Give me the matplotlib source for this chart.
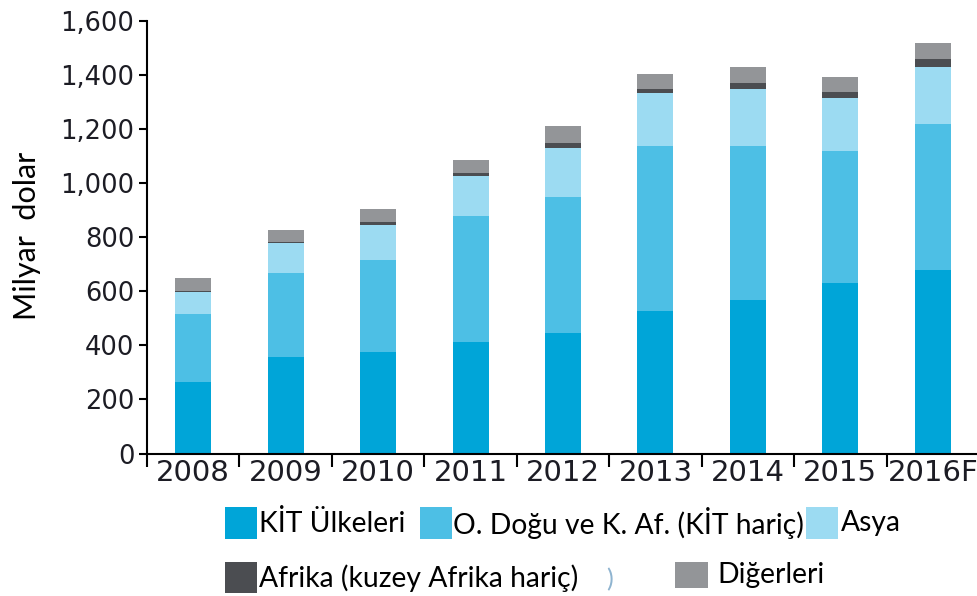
import matplotlib
matplotlib.use("Agg")
import matplotlib.pyplot as plt
from matplotlib.patches import Rectangle
import numpy as np

years = ["2008", "2009", "2010", "2011", "2012", "2013", "2014", "2015", "2016F"]
kit = [265, 356, 375, 412, 446, 527, 567, 629, 678]
odogu = [249, 310, 340, 466, 500, 610, 570, 489, 539]
asya = [84, 111, 129, 147, 182, 194, 209, 195, 212]
afrika = [2, 3, 12, 11, 18, 15, 22, 24, 28]
digerleri = [47, 46, 46, 49, 65, 55, 61, 55, 61]

series_names = ["KİT Ülkeleri", "O. Doğu ve K. Af. (KİT hariç)", "Asya",
                "Afrika (kuzey Afrika hariç)", "Diğerleri"]
colors = ["#00A5D8", "#4DBFE5", "#9CDBF2", "#4B4D51", "#939598"]
yticks = [0, 200, 400, 600, 800, 1000, 1200, 1400, 1600]

W, H = 978, 596
fig = plt.figure(figsize=(W / 100, H / 100), dpi=100)

def fx(px):
    return px / W

def fy(py):
    return 1 - py / H

ax = fig.add_axes([fx(147), fy(453.5), fx(979) - fx(147), fy(20.5) - fy(453.5)])

x = np.arange(len(years))
bottom = np.zeros(len(years))
for vals, c, name in zip([kit, odogu, asya, afrika, digerleri], colors, series_names):
    ax.bar(x, vals, bottom=bottom, width=0.39, color=c, label=name, linewidth=0)
    bottom += np.array(vals)

ax.set_xlim(-0.5, 8.5)
ax.set_ylim(0, 1600)
ax.set_yticks(yticks)
ax.set_yticklabels([f"{v:,}" for v in yticks])
ax.set_xticks(np.arange(-0.5, 9.0, 1.0))
ax.set_xticklabels([])
ax.set_xticks(x, minor=True)
ax.set_xticklabels(years, minor=True)

ax.tick_params(axis="x", which="major", direction="out", length=9, width=1.5, color="black")
ax.tick_params(axis="x", which="minor", length=0, pad=4, labelsize=21, labelcolor="#1c1c24")
ax.tick_params(axis="y", direction="out", length=6, width=1.5, labelsize=18.5,
               labelcolor="#1c1c24", pad=3)
for lab in ax.get_xticklabels(minor=True) + ax.get_yticklabels():
    lab.set_family("DejaVu Sans")

for s in ["top", "right"]:
    ax.spines[s].set_visible(False)
for s in ["left", "bottom"]:
    ax.spines[s].set_linewidth(1.5)
    ax.spines[s].set_color("black")

fig.text(fx(27), fy(236), "Milyar  dolar", rotation=90, ha="center", va="center",
         fontsize=22, family="Lato", color="black")

legend_items = [
    (0, 225, 507, 32, 32, 259, 523),
    (1, 420, 507, 32, 32, 453, 523),
    (2, 806, 507, 32, 32, 841, 523),
    (3, 225, 562, 32, 31, 259, 578),
    (4, 675, 562, 33, 26, 717, 575),
]
for i, sx, sy, sw, sh, tx, ty in legend_items:
    fig.add_artist(Rectangle((fx(sx), fy(sy + sh)), fx(sw), sh / H,
                             transform=fig.transFigure, color=colors[i], linewidth=0))
    fig.text(fx(tx), fy(ty), series_names[i], ha="left", va="center",
             fontsize=20.3, family="Lato", color="black")

fig.text(fx(606), fy(580), ")", ha="left", va="center", fontsize=18,
         family="Lato", color="#8fb4d0")

fig.savefig("out.png", dpi=100)
